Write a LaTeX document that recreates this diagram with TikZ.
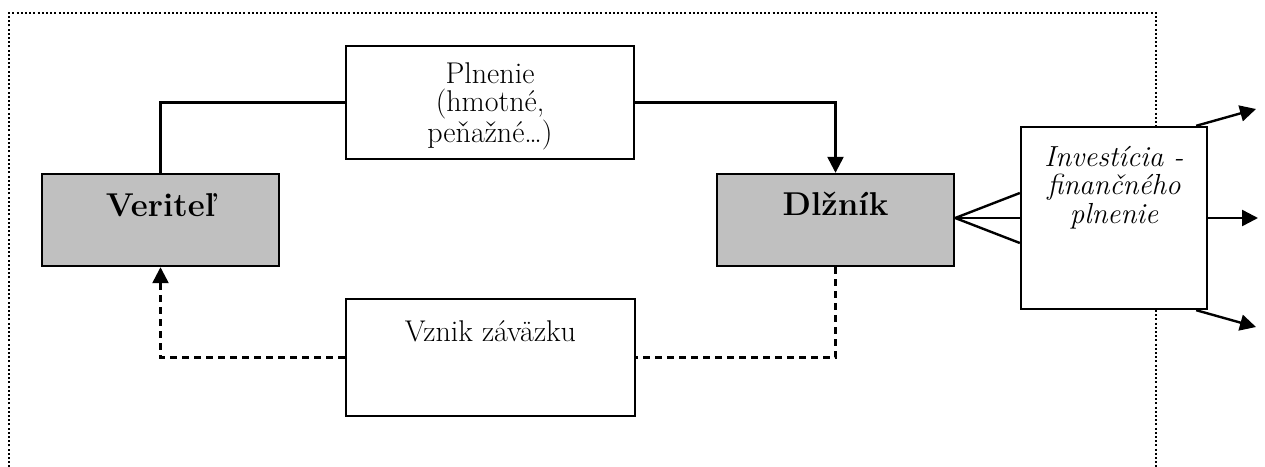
\documentclass[tikz,border=0pt]{standalone}
\usepackage{fontspec}
\usetikzlibrary{arrows.meta,calc}
\definecolor{boxgray}{HTML}{C0C0C0}
\begin{document}
\begin{tikzpicture}[x=1pt,y=-1pt,
  box/.style={rectangle, draw=black, line width=2.4pt, fill=white, inner sep=0pt},
  party/.style={box, fill=boxgray, minimum width=237pt, minimum height=92pt},
  conn/.style={draw=black, line width=2.4pt},
  tip/.style={-{Triangle[length=16pt,width=16pt]}},
  dashline/.style={conn, dash pattern=on 7pt off 5pt},
  frameline/.style={draw=black, line width=1.6pt, dash pattern=on 2pt off 2.2pt},
  lbl/.style={anchor=base, inner sep=0pt},
  bigtxt/.style={font=\fontsize{33}{36}\selectfont\bfseries},
  txt/.style={font=\fontsize{30}{28.5}\selectfont},
  ittxt/.style={font=\fontsize{29}{28.5}\selectfont\itshape},
]
\useasboundingbox (0,0) rectangle (1265,466);

% open dotted frame, its lower edge runs past the page
\begin{scope}
  \clip (0,0) rectangle (1265,466);
  \draw[frameline] (9,480) -- (9,13) -- (1156,13) -- (1156,480);
\end{scope}

% boxes
\node[party] (ver) at (160.5,220) {};
\node[party] (dlz) at (835.5,220) {};
\node[box, minimum width=288pt, minimum height=113pt] (pln) at (490,102.5) {};
\node[box, minimum width=289pt, minimum height=117pt] (vzn) at (490.5,357.5) {};
\node[box, minimum width=186pt, minimum height=182pt] (inv) at (1114,218) {};

% texts
\node[lbl, bigtxt] (verT) at (160.5,216) {Veriteľ};
\node[lbl, bigtxt] (dlzT) at (835.5,215) {Dlžník};
\node[lbl, txt] (plnT) at (490,83)
  {\vtop{\halign{\hfil#\hfil\cr Plnenie\cr (hmotné,\cr peňažné\ldots)\cr}}};
\node[lbl, txt] (vznT) at (490.5,341.5) {Vznik záväzku};
\node[lbl, ittxt] (invT) at (1114,166)
  {\vtop{\halign{\hfil#\hfil\cr Investícia -\cr finančného\cr plnenie\cr}}};

% performance: creditor to debtor
\draw[conn] (ver.north) |- (pln.west);
\draw[conn, tip] (pln.east) -| (dlz.north);

% origin of the obligation: debtor back to creditor
\draw[dashline] (dlz.south) |- (vzn.east);
\draw[dashline, tip] (vzn.west) -| (ver.south);

% debtor into the investment
\coordinate (fan) at (dlz.east |- inv.west);
\draw[conn] (fan) -- ($(inv.west)+(0,-25)$);
\draw[conn] (fan) -- (inv.west);
\draw[conn] (fan) -- ($(inv.west)+(0,25)$);

% outgoing arrows
\coordinate (out1) at (1256,109);
\coordinate (out2) at (1258,218);
\coordinate (out3) at (1256,327);
\draw[conn, tip] ($(inv.north east)+(-12,0)$) -- (out1);
\draw[conn, tip] (inv.east) -- (out2);
\draw[conn, tip] ($(inv.south east)+(-12,0)$) -- (out3);
\end{tikzpicture}
\end{document}
